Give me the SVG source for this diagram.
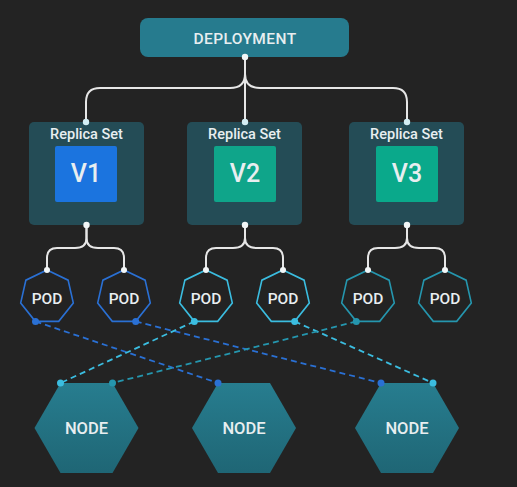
<svg xmlns="http://www.w3.org/2000/svg" xmlns:xlink="http://www.w3.org/1999/xlink" width="517" height="487" viewBox="0 0 517 487">
<style>
  .lbl{font-family:Roboto,"Liberation Sans",sans-serif;text-anchor:middle;fill:#e8eef0;font-weight:500}
  .tree{fill:none;stroke:#e6e6e6;stroke-width:2}
  .wdot{fill:#f2f6f7}
  .cdot{fill:#d4eef4}
  .rs{fill:#244c56}
  .pod{fill:none;stroke-width:1.6}
  .blue{stroke:#2a70d4}
  .cyan{stroke:#3bbde0}
  .teal{stroke:#2596ae}
  .dash{fill:none;stroke-width:1.8;stroke-dasharray:6 4}
  .node{fill:url(#ng)}
</style>
<defs>
  <linearGradient id="ng" x1="0" y1="0" x2="0" y2="1">
    <stop offset="0" stop-color="#277d8f"/>
    <stop offset="1" stop-color="#1f6675"/>
  </linearGradient>
  <polygon id="hept" points="0,-27 21.11,-16.83 26.32,6.01 11.71,24.33 -11.71,24.33 -26.32,6.01 -21.11,-16.83"/>
  <polygon id="hex" points="-52,0 -26,-45 26,-45 52,0 26,45 -26,45"/>
</defs>
<rect width="517" height="487" fill="#232323"/>

<g id="connectors">
  <path class="tree" d="M245,57 V122"/>
  <path class="tree" d="M245,74 C245,84 240,88 230,88 H100 Q86,88 86,102 V122"/>
  <path class="tree" d="M245,74 C245,84 250,88 260,88 H393 Q407,88 407,102 V122"/>

  <path class="tree" d="M86.5,225 V238 C86.5,245 82,248 75,248 H57 Q47,248 47,258 V270"/>
  <path class="tree" d="M86.5,225 V238 C86.5,245 91,248 98,248 H114 Q124,248 124,258 V270"/>
  <path class="tree" d="M245,225 V238 C245,245 240,248 233,248 H216 Q206,248 206,258 V270"/>
  <path class="tree" d="M245,225 V238 C245,245 250,248 257,248 H273 Q283,248 283,258 V270"/>
  <path class="tree" d="M407,225 V238 C407,245 402,248 395,248 H378 Q368,248 368,258 V270"/>
  <path class="tree" d="M407,225 V238 C407,245 412,248 419,248 H435 Q445,248 445,258 V270"/>

  <line class="dash blue" x1="35.5" y1="321.5" x2="218" y2="383"/>
  <line class="dash blue" x1="135.7" y1="321.5" x2="381" y2="383"/>
  <line class="dash cyan" x1="194.3" y1="321.5" x2="60.5" y2="383"/>
  <line class="dash cyan" x1="294.7" y1="321.5" x2="433" y2="383"/>
  <line class="dash teal" x1="356.3" y1="321.5" x2="112.5" y2="383"/>
</g>

<g id="deployment">
  <rect x="140" y="18" width="209" height="39" rx="8" fill="#267b8e"/>
  <text class="lbl" x="245" y="43.5" font-size="15.5" letter-spacing="0.4">DEPLOYMENT</text>
  <circle class="wdot" cx="245" cy="57" r="3.2"/>
</g>

<g id="rs1">
  <rect class="rs" x="29" y="122" width="115" height="103" rx="5"/>
  <text class="lbl" x="86.5" y="138.5" font-size="14.5">Replica Set</text>
  <rect x="55" y="146" width="62" height="56" rx="2" fill="#1b74df"/>
  <text class="lbl" x="86" y="182" font-size="25" font-weight="400" fill="#fff">V1</text>
  <circle class="cdot" cx="86" cy="122" r="3.2"/>
  <circle class="wdot" cx="86.5" cy="225" r="3.2"/>
</g>
<g id="rs2">
  <rect class="rs" x="187" y="122" width="115" height="103" rx="5"/>
  <text class="lbl" x="244.5" y="138.5" font-size="14.5">Replica Set</text>
  <rect x="214" y="146" width="62" height="56" rx="2" fill="#0fa58a"/>
  <text class="lbl" x="245" y="182" font-size="25" font-weight="400" fill="#fff">V2</text>
  <circle class="cdot" cx="245" cy="122" r="3.2"/>
  <circle class="wdot" cx="245" cy="225" r="3.2"/>
</g>
<g id="rs3">
  <rect class="rs" x="349" y="122" width="115" height="103" rx="5"/>
  <text class="lbl" x="406.5" y="138.5" font-size="14.5">Replica Set</text>
  <rect x="376" y="146" width="62" height="56" rx="2" fill="#0aa98b"/>
  <text class="lbl" x="407" y="182" font-size="25" font-weight="400" fill="#fff">V3</text>
  <circle class="cdot" cx="407" cy="122" r="3.2"/>
  <circle class="wdot" cx="407" cy="225" r="3.2"/>
</g>

<g id="pod1">
  <use xlink:href="#hept" class="pod blue" x="47" y="297"/>
  <text class="lbl" x="47" y="304" font-size="15.5">POD</text>
  <circle class="wdot" cx="47" cy="270" r="3"/>
  <circle cx="35.5" cy="321.5" r="3.5" fill="#2a70d4"/>
</g>
<g id="pod2">
  <use xlink:href="#hept" class="pod blue" x="124" y="297"/>
  <text class="lbl" x="124" y="304" font-size="15.5">POD</text>
  <circle class="wdot" cx="124" cy="270" r="3"/>
  <circle cx="135.7" cy="321.5" r="3.5" fill="#2a70d4"/>
</g>
<g id="pod3">
  <use xlink:href="#hept" class="pod cyan" x="206" y="297"/>
  <text class="lbl" x="206" y="304" font-size="15.5">POD</text>
  <circle class="wdot" cx="206" cy="270" r="3"/>
  <circle cx="194.3" cy="321.5" r="3.5" fill="#3bbde0"/>
</g>
<g id="pod4">
  <use xlink:href="#hept" class="pod cyan" x="283" y="297"/>
  <text class="lbl" x="283" y="304" font-size="15.5">POD</text>
  <circle class="wdot" cx="283" cy="270" r="3"/>
  <circle cx="294.7" cy="321.5" r="3.5" fill="#3bbde0"/>
</g>
<g id="pod5">
  <use xlink:href="#hept" class="pod teal" x="368" y="297"/>
  <text class="lbl" x="368" y="304" font-size="15.5">POD</text>
  <circle class="wdot" cx="368" cy="270" r="3"/>
  <circle cx="356.3" cy="321.5" r="3.5" fill="#2596ae"/>
</g>
<g id="pod6">
  <use xlink:href="#hept" class="pod teal" x="445" y="297"/>
  <text class="lbl" x="445" y="304" font-size="15.5">POD</text>
  <circle class="wdot" cx="445" cy="270" r="3"/>
</g>

<g id="node1">
  <use xlink:href="#hex" class="node" x="86.5" y="428"/>
  <text class="lbl" x="86.5" y="434" font-size="16.5" font-weight="400" fill="#d8dee0">NODE</text>
  <circle cx="60.5" cy="383" r="3.5" fill="#3bbde0"/>
  <circle cx="112.5" cy="383" r="3.5" fill="#2596ae"/>
</g>
<g id="node2">
  <use xlink:href="#hex" class="node" x="244" y="428"/>
  <text class="lbl" x="244" y="434" font-size="16.5" font-weight="400" fill="#d8dee0">NODE</text>
  <circle cx="218" cy="383" r="3.5" fill="#2a70d4"/>
</g>
<g id="node3">
  <use xlink:href="#hex" class="node" x="407" y="428"/>
  <text class="lbl" x="407" y="434" font-size="16.5" font-weight="400" fill="#d8dee0">NODE</text>
  <circle cx="381" cy="383" r="3.5" fill="#2a70d4"/>
  <circle cx="433" cy="383" r="3.5" fill="#3bbde0"/>
</g>
</svg>
